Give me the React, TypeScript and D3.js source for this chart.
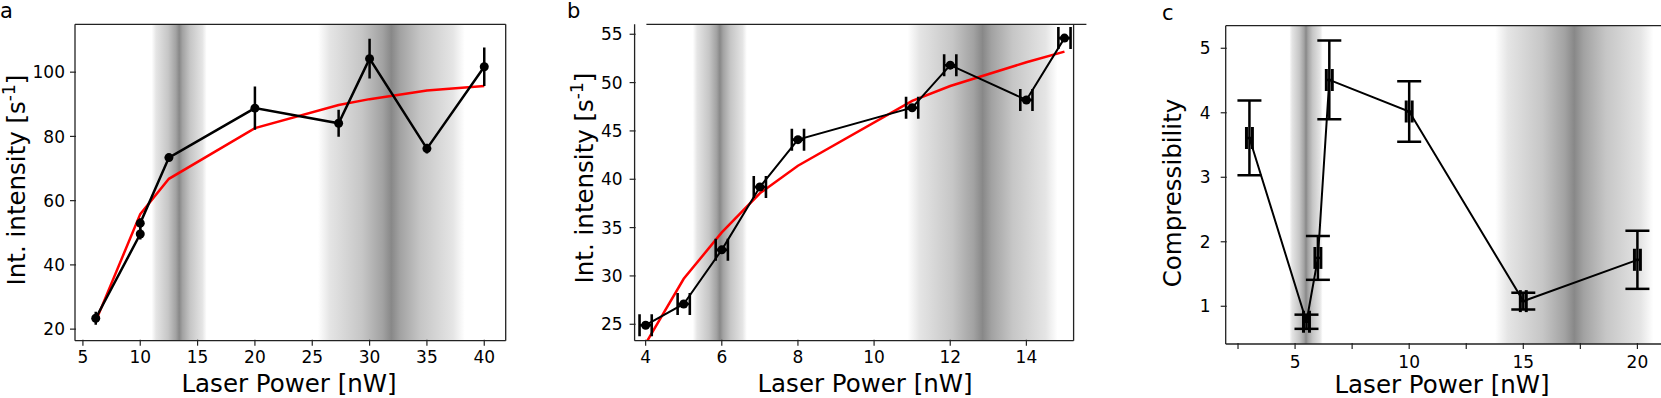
import React from 'react';
import * as d3 from 'd3';

// ---- panel a : integrated intensity vs laser power
const aPower = [6.12, 10, 10, 12.5, 20, 27.3, 30, 35, 40];
const aIntensity = [23.4, 49.6, 53.0, 73.4, 88.8, 84.1, 104.2, 76.2, 101.7];
const aErr = [2.0, 1.7, 1.5, 1.0, 6.7, 4.2, 6.2, 1.5, 6.0];
const aFitPower = [6.12, 10, 12.5, 20, 27.3, 30, 35, 40];
const aFit = [22.5, 55.8, 66.8, 82.6, 89.8, 91.6, 94.3, 95.7];
const aTicksX = [5, 10, 15, 20, 25, 30, 35, 40];
const aTicksY = [20, 40, 60, 80, 100];
const aBands = [[11.0, 15.8], [25.5, 38.3]];

// ---- panel b
const bPower = [4, 5, 6, 7, 8, 11, 12, 14, 15];
const bIntensity = [24.9, 27.1, 32.7, 39.2, 44.1, 47.4, 51.8, 48.2, 54.6];
const bXErr = [0.16, 0.16, 0.16, 0.16, 0.16, 0.16, 0.16, 0.16, 0.16];
const bFit = [23.0, 29.7, 34.5, 38.55, 41.4, 48.1, 49.65, 52.1, 53.2];
const bTicksX = [4, 6, 8, 10, 12, 14];
const bTicksY = [25, 30, 35, 40, 45, 50, 55];
const bBands = [[5.24, 6.66], [10.88, 14.82]];

// ---- panel c : compressibility
const cPower = [3, 5.5, 6, 6.5, 10, 15, 20];
const cComp = [3.61, 0.76, 1.75, 4.51, 4.02, 1.08, 1.72];
const cErr = [0.58, 0.11, 0.34, 0.61, 0.47, 0.13, 0.45];
const cXErr = [0.13, 0.13, 0.13, 0.13, 0.13, 0.13, 0.13];
const cTicksX = [5, 10, 15, 20];
const cMinorX = [2.5, 7.5, 12.5, 17.5];
const cTicksY = [1, 2, 3, 4, 5];
const cBands = [[4.75, 6.21], [13.77, 20.7]];

const FONT = "'DejaVu Sans', sans-serif";
const SPINE = '#222';

type Box = { left: number; right: number; top: number; bottom: number };

// gradient stops of the shaded regions (opacity profile)
const bandStops = [
  [0, 0], [0.08, 0.22], [0.3, 0.48], [0.44, 0.78], [0.5, 1],
  [0.56, 0.78], [0.7, 0.48], [0.92, 0.22], [1, 0],
];

function Bands({ bands, x, box }: any) {
  return (
    <g>
      {bands.map((b: number[], i: number) => (
        <rect key={i} x={x(b[0])} y={box.top} width={x(b[1]) - x(b[0])}
          height={box.bottom - box.top} fill="url(#band)" />
      ))}
    </g>
  );
}

function Axes({ x, y, box, xTicks, yTicks, minorX = [], yPad, xPad, spines, label, xLabel, yLabel }: any) {
  return (
    <g fontFamily={FONT} fill="#000">
      {spines.map((s: string) => {
        if (s === 'left') return <line key={s} x1={box.left} x2={box.left} y1={box.top} y2={box.bottom} stroke={SPINE} strokeWidth={1.3} />;
        if (s === 'right') return <line key={s} x1={box.right} x2={box.right} y1={box.top} y2={box.bottom} stroke={SPINE} strokeWidth={1.3} />;
        if (s === 'top') return <line key={s} x1={box.left} x2={box.right} y1={box.top} y2={box.top} stroke={SPINE} strokeWidth={1.3} />;
        return <line key={s} x1={box.left} x2={box.right} y1={box.bottom} y2={box.bottom} stroke={SPINE} strokeWidth={1.3} />;
      })}
      {xTicks.map((t: number) => (
        <g key={'x' + t}>
          <line x1={x(t)} x2={x(t)} y1={box.bottom - 1} y2={box.bottom + 5} stroke={SPINE} strokeWidth={1.2} />
          <text x={x(t)} y={box.bottom + xPad} fontSize={17} textAnchor="middle">{t}</text>
        </g>
      ))}
      {minorX.map((t: number) => (
        <line key={'m' + t} x1={x(t)} x2={x(t)} y1={box.bottom - 1} y2={box.bottom + 5} stroke={SPINE} strokeWidth={1.2} />
      ))}
      {yTicks.map((t: number) => (
        <g key={'y' + t}>
          <line x1={box.left - 5} x2={box.left + 1} y1={y(t)} y2={y(t)} stroke={SPINE} strokeWidth={1.2} />
          <text x={box.left - yPad} y={y(t)} dy="0.36em" fontSize={17} textAnchor="end">{t}</text>
        </g>
      ))}
      <text x={xLabel.x} y={xLabel.y} fontSize={24.5} textAnchor="middle">Laser Power [nW]</text>
      <text transform={`translate(${yLabel.x},${yLabel.y}) rotate(-90)`} fontSize={24.5} textAnchor="middle">
        {yLabel.sup ? (
          <>
            {yLabel.text}
            <tspan fontSize={17} dy={-10}>-1</tspan>
            <tspan dy={10}>]</tspan>
          </>
        ) : yLabel.text}
      </text>
      <text x={label.x} y={label.y} fontSize={21}>{label.text}</text>
    </g>
  );
}

export default function App() {
  // panel a
  const boxA: Box = { left: 75, right: 505.7, top: 24.3, bottom: 340.7 };
  const xa = d3.scaleLinear().domain([4.31, 41.87]).range([boxA.left, boxA.right]);
  const ya = d3.scaleLinear().domain([16.4, 114.9]).range([boxA.bottom, boxA.top]);
  const lineA = d3.line<number>().x((_, i) => xa(aPower[i])).y((d) => ya(d));
  const fitA = d3.line<number>().x((_, i) => xa(aFitPower[i])).y((d) => ya(d));

  // panel b
  const boxB: Box = { left: 634.6, right: 1073.6, top: 24.3, bottom: 340.7 };
  const xb = d3.scaleLinear().domain([3.71, 15.24]).range([boxB.left, boxB.right]);
  const yb = d3.scaleLinear().domain([23.3, 56.03]).range([boxB.bottom, boxB.top]);
  const lineB = d3.line<number>().x((_, i) => xb(bPower[i])).y((d) => yb(d));

  // panel c (right spine falls just outside the figure)
  const boxC: Box = { left: 1225.7, right: 1661.6, top: 25.7, bottom: 344 };
  const xc = d3.scaleLinear().domain([1.96, 21.06]).range([boxC.left, boxC.right]);
  const yc = d3.scaleLinear().domain([0.415, 5.35]).range([boxC.bottom, boxC.top]);
  const lineC = d3.line<number>().x((_, i) => xc(cPower[i])).y((d) => yc(d));

  const clip = (id: string, b: Box) => (
    <clipPath id={id}><rect x={b.left} y={b.top} width={b.right - b.left} height={b.bottom - b.top} /></clipPath>
  );

  return (
    <svg width={1661} height={398} style={{ position: 'absolute', left: 0, top: 0, background: '#fff' }}>
      <defs>
        <linearGradient id="band" x1="0" x2="1" y1="0" y2="0">
          {bandStops.map(([o, a], i) => (
            <stop key={i} offset={o} stopColor="#888" stopOpacity={a} />
          ))}
        </linearGradient>
        {clip('clipA', boxA)}
        {clip('clipB', boxB)}
        {clip('clipC', boxC)}
      </defs>
      <rect width={1661} height={398} fill="#fff" />

      {/* panel a */}
      <g clipPath="url(#clipA)">
        <Bands bands={aBands} x={xa} box={boxA} />
        <path d={fitA(aFit) || ''} fill="none" stroke="#ff0000" strokeWidth={2.5} />
        {aIntensity.map((v, i) => (
          <line key={i} x1={xa(aPower[i])} x2={xa(aPower[i])} y1={ya(v - aErr[i])} y2={ya(v + aErr[i])} stroke="#000" strokeWidth={2.5} />
        ))}
        <path d={lineA(aIntensity) || ''} fill="none" stroke="#000" strokeWidth={2.5} />
        {aIntensity.map((v, i) => (
          <circle key={i} cx={xa(aPower[i])} cy={ya(v)} r={4.5} fill="#000" />
        ))}
      </g>
      <Axes x={xa} y={ya} box={boxA} xTicks={aTicksX} yTicks={aTicksY} yPad={10} xPad={22.6}
        spines={['left', 'right', 'top', 'bottom']}
        label={{ x: 0, y: 18, text: 'a' }}
        xLabel={{ x: 289, y: 392 }}
        yLabel={{ x: 25, y: 180, text: 'Int. intensity [s', sup: true }} />

      {/* panel b */}
      <g clipPath="url(#clipB)">
        <Bands bands={bBands} x={xb} box={boxB} />
        <path d={lineB(bFit) || ''} fill="none" stroke="#ff0000" strokeWidth={2.5} />
        <path d={lineB(bIntensity) || ''} fill="none" stroke="#000" strokeWidth={2} />
        {bIntensity.map((v, i) => {
          const cx = xb(bPower[i]);
          const x0 = xb(bPower[i] - bXErr[i]);
          const x1 = xb(bPower[i] + bXErr[i]);
          return (
            <g key={i} stroke="#000" strokeWidth={2.6}>
              <line x1={x0} x2={x1} y1={yb(v)} y2={yb(v)} />
              <line x1={x0} x2={x0} y1={yb(v) - 11} y2={yb(v) + 11} />
              <line x1={x1} x2={x1} y1={yb(v) - 11} y2={yb(v) + 11} />
              <circle cx={cx} cy={yb(v)} r={4.5} fill="#000" stroke="none" />
            </g>
          );
        })}
      </g>
      <Axes x={xb} y={yb} box={boxB} xTicks={bTicksX} yTicks={bTicksY} yPad={12} xPad={22.6}
        spines={['left', 'right', 'bottom']}
        label={{ x: 567, y: 18, text: 'b' }}
        xLabel={{ x: 865, y: 392 }}
        yLabel={{ x: 592.5, y: 178, text: 'Int. intensity [s', sup: true }} />
      <line x1={boxB.left + 11.8} x2={boxB.right + 12.8} y1={boxB.top} y2={boxB.top} stroke={SPINE} strokeWidth={1.3} />

      {/* panel c */}
      <g clipPath="url(#clipC)">
        <Bands bands={cBands} x={xc} box={boxC} />
        <path d={lineC(cComp) || ''} fill="none" stroke="#000" strokeWidth={2} />
        {cComp.map((v, i) => {
          const cx = xc(cPower[i]);
          const x0 = xc(cPower[i] - cXErr[i]);
          const x1 = xc(cPower[i] + cXErr[i]);
          const lo = yc(v - cErr[i]);
          const hi = yc(v + cErr[i]);
          return (
            <g key={i} stroke="#000">
              <line x1={cx} x2={cx} y1={lo} y2={hi} strokeWidth={2.5} />
              <line x1={cx - 12} x2={cx + 12} y1={lo} y2={lo} strokeWidth={2.5} />
              <line x1={cx - 12} x2={cx + 12} y1={hi} y2={hi} strokeWidth={2.5} />
              <line x1={x0} x2={x1} y1={yc(v)} y2={yc(v)} strokeWidth={2.5} />
              <line x1={x0} x2={x0} y1={yc(v) - 11} y2={yc(v) + 11} strokeWidth={3} />
              <line x1={x1} x2={x1} y1={yc(v) - 11} y2={yc(v) + 11} strokeWidth={3} />
            </g>
          );
        })}
      </g>
      <Axes x={xc} y={yc} box={boxC} xTicks={cTicksX} minorX={cMinorX} yTicks={cTicksY} yPad={15} xPad={24.3}
        spines={['left', 'top', 'bottom']}
        label={{ x: 1162, y: 20, text: 'c' }}
        xLabel={{ x: 1442, y: 393 }}
        yLabel={{ x: 1181, y: 193, text: 'Compressibility', sup: false }} />
    </svg>
  );
}
